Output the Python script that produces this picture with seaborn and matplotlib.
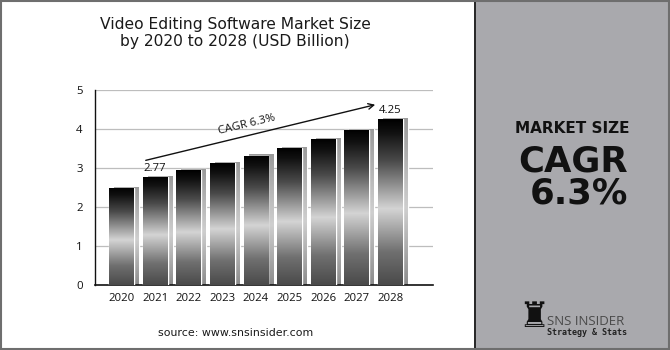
import numpy as np
import pandas as pd
import matplotlib
matplotlib.use('Agg')
import matplotlib.pyplot as plt
import seaborn as sns
from matplotlib.colors import LinearSegmentedColormap
from matplotlib.patches import Rectangle

# --- data ---
years = ['2020', '2021', '2022', '2023', '2024', '2025', '2026', '2027', '2028']
market_size = [2.49, 2.77, 2.94, 3.12, 3.32, 3.52, 3.75, 3.98, 4.25]
labelled = {'2021': 2.77, '2028': 4.25}
cagr_text = 'CAGR 6.3%'
title_text = 'Video Editing Software Market Size\nby 2020 to 2028 (USD Billion)'
source_text = 'source: www.snsinsider.com'

df = pd.DataFrame({'year': years, 'value': market_size})

sns.set_style('white')
plt.rcParams['font.family'] = ['Open Sans', 'DejaVu Sans']

fig = plt.figure(figsize=(6.7, 3.5), dpi=100)
fig.patch.set_facecolor('white')

# right grey panel + borders
fig.add_artist(Rectangle((0.709, 0), 0.291, 1, transform=fig.transFigure,
                         facecolor='#a9a9ad', edgecolor='none', zorder=0))
fig.add_artist(Rectangle((0.707, 0), 0.004, 1, transform=fig.transFigure,
                         facecolor='#2a2a2a', edgecolor='none', zorder=1))
fig.add_artist(Rectangle((0.0015, 0.003), 0.997, 0.994, transform=fig.transFigure,
                         facecolor='none', edgecolor='#6e6e6e', lw=1.5, zorder=2))

ax = fig.add_axes([0.1418, 0.1857, 0.5045, 0.5571])

# shadow bars behind, then the main bars
sns.barplot(data=df, x='year', y='value', color='#a4a4a4', width=0.74,
            saturation=1, ax=ax, zorder=2)
sns.barplot(data=df, x='year', y='value', color='#333333', width=0.74,
            saturation=1, ax=ax, zorder=3)

n = len(years)
shadows = ax.patches[:n]
fronts = ax.patches[n:]

front_cmap = LinearSegmentedColormap.from_list(
    'metal', [(0.0, '#4a4a4a'), (0.2, '#707070'), (0.46, '#d4d4d4'),
              (0.75, '#4a4a4a'), (0.92, '#111111'), (1.0, '#000000')])
shadow_cmap = LinearSegmentedColormap.from_list(
    'metal_s', [(0.0, '#8c8c8c'), (0.46, '#cfcfcf'), (1.0, '#9a9a9a')])

grad = np.linspace(0, 1, 256).reshape(-1, 1)
for p in shadows:
    p.set_x(p.get_x() + 0.15)
    p.set_height(p.get_height() + 0.03)
    x0, w, h = p.get_x(), p.get_width(), p.get_height()
    im = ax.imshow(grad, extent=[x0, x0 + w, 0, h], origin='lower',
                   aspect='auto', cmap=shadow_cmap, zorder=2.5)
    im.set_clip_path(p)
for p in fronts:
    x0, w, h = p.get_x(), p.get_width(), p.get_height()
    im = ax.imshow(grad, extent=[x0, x0 + w, 0, h], origin='lower',
                   aspect='auto', cmap=front_cmap, zorder=3.5)
    im.set_clip_path(p)

ax.set_xlim(-0.79, 9.27)
ax.set_ylim(0, 5)
ax.set_yticks(range(0, 6))
ax.yaxis.grid(True, color='#bdbdbd', lw=0.9)
ax.set_axisbelow(True)
ax.set_xlabel('')
ax.set_ylabel('')
for s in ['top', 'right']:
    ax.spines[s].set_visible(False)
ax.spines['left'].set_color('#111111')
ax.spines['bottom'].set_color('#111111')
ax.spines['left'].set_linewidth(1.0)
ax.spines['bottom'].set_linewidth(1.2)
ax.tick_params(axis='both', length=0, labelsize=8.2, colors='#111111', pad=6)
ax.tick_params(axis='y', pad=9)

# value labels
for i, y in enumerate(years):
    if y in labelled:
        ax.text(i, labelled[y] + 0.08, f'{labelled[y]:.2f}', ha='center',
                va='bottom', fontsize=8.2, color='#111111')

# CAGR arrow
ax.annotate('', xy=(7.63, 4.64), xytext=(0.64, 3.18),
            arrowprops=dict(arrowstyle='->', color='#111111', lw=1.0))
ax.text(3.73, 4.1, cagr_text, rotation=13.6, rotation_mode='anchor',
        ha='center', va='center', fontsize=8.2, color='#111111')

# titles and texts
fig.text(0.351, 0.906, title_text, ha='center', va='center', fontsize=11.2,
         color='#1a1a1a', linespacing=1.12, family=['DejaVu Sans'])
fig.text(0.352, 0.048, source_text, ha='center', va='center', fontsize=7.9,
         color='#1a1a1a', family=['DejaVu Sans'])

fig.text(0.940, 0.62, 'MARKET SIZE', ha='right', va='baseline', fontsize=11,
         fontweight='bold', color='#111111', family=['DejaVu Sans'])
fig.text(0.937, 0.511, 'CAGR', ha='right', va='baseline', fontsize=25.5,
         fontweight='bold', color='#111111', family=['DejaVu Sans'])
fig.text(0.937, 0.42, '6.3%', ha='right', va='baseline', fontsize=25.5,
         fontweight='bold', color='#111111', family=['DejaVu Sans'])

# logo
fig.text(0.796, 0.094, '\u265c', ha='center', va='center', fontsize=25,
         color='#111111', family=['DejaVu Sans'])
fig.text(0.817, 0.081, 'SNS INSIDER', ha='left', va='center', fontsize=9.5,
         color='#4a4a4a')
fig.text(0.817, 0.051, 'Strategy & Stats', ha='left', va='center', fontsize=6,
         fontweight='bold', color='#222222', family=['DejaVu Sans Mono'])

fig.savefig('out.png', dpi=100)
